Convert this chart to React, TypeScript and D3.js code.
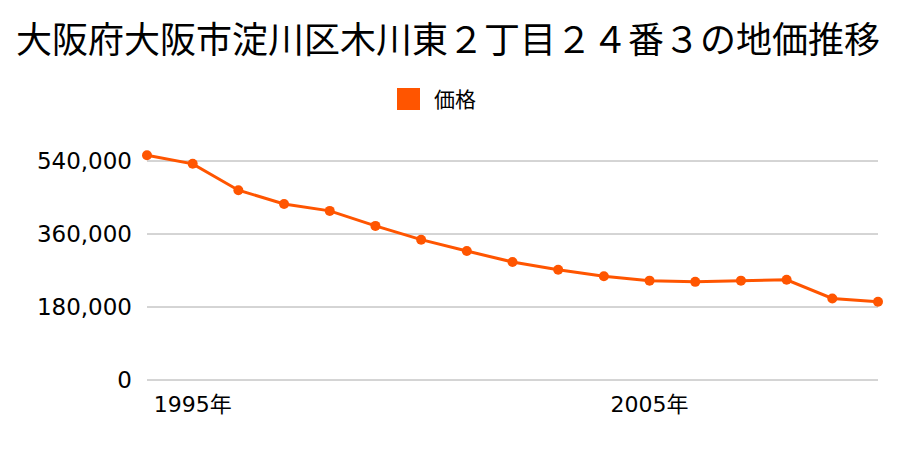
import React from "react";
import * as d3 from "d3";

const title = "大阪府大阪市淀川区木川東２丁目２４番３の地価推移";
const seriesName = "価格";
const years = [1994, 1995, 1996, 1997, 1998, 1999, 2000, 2001, 2002, 2003, 2004, 2005, 2006, 2007, 2008, 2009, 2010];
const prices = [554000, 533000, 468000, 434000, 417000, 380000, 346000, 318000, 291000, 272000, 256000, 245000, 242000, 245000, 247000, 201000, 193000];
const yTicks = [0, 180000, 360000, 540000];
const xTickYears = [1995, 2005];

const W = 900;
const H = 450;
const FONT = "'Noto Sans CJK JP', 'Noto Sans', sans-serif";
const NUMFONT = "'DejaVu Sans', 'Noto Sans CJK JP', sans-serif";
const COLOR = "#ff5500";

export default function App() {
  const x = d3.scaleLinear().domain([1994, 2010]).range([147, 878]);
  const y = d3.scaleLinear().domain([0, 540000]).range([380, 161]);
  const line = d3
    .line<number>()
    .x((_, i) => x(years[i]))
    .y((d) => y(d));
  const fmt = d3.format(",");

  return (
    <svg
      width={W}
      height={H}
      style={{ position: "absolute", left: 0, top: 0, background: "#fff" }}
      fontFamily={FONT}
    >
      <rect width={W} height={H} fill="#fff" />
      <text x={448} y={53} textAnchor="middle" fontSize={36} fill="#000">
        {title}
      </text>
      <rect x={397} y={88} width={23} height={22} fill={COLOR} />
      <text x={434} y={107} fontSize={21} fill="#000">
        {seriesName}
      </text>
      {yTicks.map((t) => (
        <g key={t}>
          <line x1={147} x2={878} y1={y(t)} y2={y(t)} stroke="#aaa" strokeWidth={1} />
          <text x={132} y={y(t)} dy="0.36em" textAnchor="end" fontSize={23} fill="#000" fontFamily={NUMFONT}>
            {fmt(t)}
          </text>
        </g>
      ))}
      {xTickYears.map((yr) => (
        <text key={yr} x={x(yr)} y={412} textAnchor="middle" fontSize={22} fill="#000" fontFamily={NUMFONT}>
          {yr}年
        </text>
      ))}
      <path d={line(prices) || ""} fill="none" stroke={COLOR} strokeWidth={3} />
      {prices.map((p, i) => (
        <circle key={i} cx={x(years[i])} cy={y(p)} r={5} fill={COLOR} />
      ))}
    </svg>
  );
}
